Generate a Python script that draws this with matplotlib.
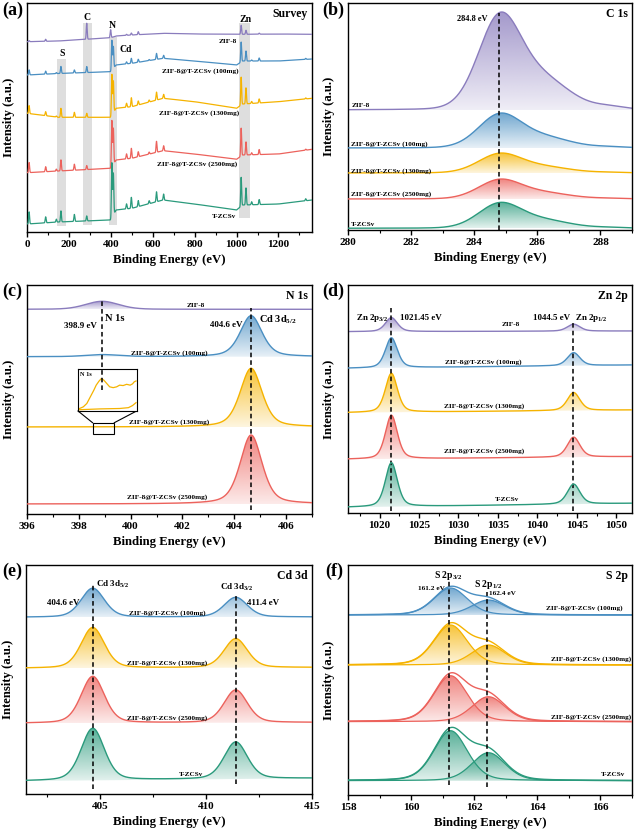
import numpy as np
import matplotlib
matplotlib.use("Agg")
import matplotlib.pyplot as plt
from matplotlib.patches import Polygon, Rectangle
from matplotlib.colors import to_rgb
from matplotlib.ticker import MultipleLocator

plt.rcParams['font.family'] = ['Liberation Serif', 'DejaVu Serif']
plt.rcParams['font.weight'] = 'bold'
plt.rcParams['axes.labelweight'] = 'bold'
plt.rcParams['mathtext.default'] = 'regular'
plt.rcParams['axes.linewidth'] = 1.0

# ---------------- data ----------------
samples = ['ZIF-8', 'ZIF-8@T-ZCSv (100mg)', 'ZIF-8@T-ZCSv (1300mg)',
           'ZIF-8@T-ZCSv (2500mg)', 'T-ZCSv']
colors = ['#8a7cbd', '#4a8fc2', '#f5b300', '#ec625c', '#2a9a7c']

# (a) survey: peak positions and heights per sample (top -> bottom)
sv_peak_x = [10, 89, 140, 162, 226, 285, 399, 405, 412, 475, 498, 531, 583, 618, 652, 1022, 1045, 1072, 1108, 1330]
sv_h_zif8 = [1, 2, 0, 0, 0, 16, 8, 0, 0, 1, 2, 3, 0, 0, 0, 9, 4, 0, 1, 0]
sv_h_100 = [5, 3, 1, 7, 3, 6, 0, 30, 22, 2, 5, 3, 1, 6, 3, 20, 10, 1, 3, 1]
sv_h_1300 = [8, 4, 1, 9, 5, 4, 0, 41, 32, 4, 9, 4, 2, 8, 4, 28, 16, 2, 4, 1]
sv_h_2500 = [10, 5, 2, 11, 6, 4, 0, 46, 36, 5, 10, 5, 2, 11, 5, 28, 13, 2, 5, 1]
sv_h_tzcsv = [12, 6, 3, 11, 7, 5, 0, 55, 42, 5, 11, 6, 3, 10, 6, 29, 17, 3, 5, 2]
sv_bg_x = [0, 150, 400, 425, 500, 650, 800, 1000, 1030, 1200, 1360]
sv_bg_zif8 = [190.3, 191, 194.3, 196, 197, 198.7, 198, 197.7, 197.7, 198, 197.7]
sv_bg_100 = [157, 158.5, 160.3, 167, 168.7, 173.7, 171, 167, 171, 171, 173]
sv_bg_1300 = [118.7, 114.7, 114.7, 123.7, 125.3, 133.7, 130.3, 123.7, 128, 130.3, 133.7]
sv_bg_2500 = [59.3, 61, 63.7, 72, 73.7, 81.3, 78, 72.7, 77, 78, 82.7]
sv_bg_tzcsv = [8, 10, 12, 22, 23.7, 32, 28, 22, 27, 28, 32]
band_lo = [145, 269, 391, 1014]
band_hi = [185, 312, 431, 1065]
band_bot = [6, 7, 7, 14]
band_top = [173, 209, 195, 209]

# (b) C 1s
c1s_center = [284.8, 286.2, 288.3]
c1s_fwhm = [1.6, 2.0, 1.2]
c1s_ratio = [1.0, 0.32, 0.03]
c1s_height = [98, 35, 20, 20, 26]
c1s_base = [120, 82, 57, 31, 1.7]

# (c) N 1s (ZIF-8, 100, 1300, 2500)
n1s_center = [398.9, 404.65]
n1s_fwhm = [1.5, 1.0]
n1s_h_n = [8, 2, 0, 0]
n1s_h_cd = [0, 41, 58.7, 69]
n1s_base = [204.7, 157.3, 87, 10]
inset_u = [0.01, 0.09, 0.15, 0.21, 0.27, 0.31, 0.36, 0.40, 0.44, 0.49, 0.54, 0.60, 0.66, 0.71, 0.77, 0.83, 0.89, 0.93, 0.96, 0.99]
inset_v = [0.05, 0.10, 0.18, 0.34, 0.50, 0.62, 0.72, 0.78, 0.74, 0.66, 0.58, 0.56, 0.58, 0.62, 0.61, 0.64, 0.62, 0.65, 0.70, 0.72]
inset_bu = [0.01, 0.37, 0.71, 0.86, 0.93, 0.99]
inset_bv = [0.03, 0.05, 0.06, 0.08, 0.13, 0.20]

# (d) Zn 2p (all five)
zn_center = [1021.5, 1044.6]
zn_fwhm = [1.8, 1.9]
zn_h1 = [14, 30, 39, 43.6, 44]
zn_h2 = [7, 13, 18, 20, 20]
zn_base_l = [181.3, 144.7, 100.3, 53.7, 5.7]
zn_base_r = [182, 148, 103, 56.4, 9.7]

# (e) Cd 3d (100, 1300, 2500, T-ZCSv)
cd_center = [404.65, 411.4]
cd_fwhm = [1.3, 1.3]
cd_h1 = [29, 40.6, 46.7, 52]
cd_h2 = [19.7, 29, 32.7, 37]
cd_base_l = [176.7, 125.7, 70.7, 13]
cd_base_r = [177, 126.5, 71.5, 15.7]

# (f) S 2p (100, 1300, 2500, T-ZCSv)
s_center = [161.25, 162.45]
s_fwhm = [1.25, 1.25]
s_h1 = [27, 40, 46, 50]
s_h2 = [15, 20, 25, 28]
s_base = [180, 130, 73.3, 14.3]


# ---------------- helpers ----------------
def pv(x, c, w, eta):
    g = np.exp(-4 * np.log(2) * ((x - c) / w) ** 2)
    lo = 1.0 / (1 + 4 * ((x - c) / w) ** 2)
    return eta * lo + (1 - eta) * g


def grad_fill(ax, x, ytop, ybase, color, a_top=0.78, a_bot=0.13, z=1):
    verts = np.vstack([np.column_stack([x, ytop]),
                       np.column_stack([x[::-1], ybase[::-1]])])
    poly = Polygon(verts, closed=True, fc='none', ec='none')
    ax.add_patch(poly)
    n = 200
    img = np.zeros((n, 2, 4))
    img[..., :3] = to_rgb(color)
    img[..., 3] = np.linspace(a_bot, a_top, n)[:, None]
    im = ax.imshow(img, extent=[x.min(), x.max(), ybase.min(), ytop.max()],
                   origin='lower', aspect='auto', interpolation='bilinear', zorder=z)
    im.set_clip_path(poly)


W, H = 635, 834


def rect(l, r, t, b):
    return [l / W, 1 - b / H, (r - l) / W, (b - t) / H]


def setup(ax, xlim, ytop, major, minor, ylab_x):
    ax.set_xlim(*xlim)
    ax.set_ylim(0, ytop)
    ax.set_yticks([])
    ax.xaxis.set_major_locator(MultipleLocator(major))
    ax.xaxis.set_minor_locator(MultipleLocator(minor))
    ax.tick_params(axis='x', which='major', direction='out', length=3.5, width=1, labelsize=8, pad=2)
    ax.tick_params(axis='x', which='minor', direction='out', length=2, width=0.8)
    ax.set_xlabel('Binding Energy (eV)', fontsize=9.2, fontweight='bold')
    ax.set_ylabel('Intensity (a.u.)', fontsize=9.2, fontweight='bold')
    ax.xaxis.set_label_coords(0.5, -0.095)
    ax.yaxis.set_label_coords(ylab_x, 0.5)


def title(ax, s):
    ax.text(0.985, 0.98, s, transform=ax.transAxes, ha='right', va='top', fontsize=8.5, fontweight='bold')


def dash(ax, x, y0, y1):
    ax.plot([x, x], [y0, y1], color='black', lw=1.1, ls=(0, (3, 2)), zorder=6)


fig = plt.figure(figsize=(6.35, 8.34), dpi=100)

# ---------------- (a) survey ----------------
ax = fig.add_axes(rect(27, 312, 3, 232))
setup(ax, (0, 1360), 229, 200, 100, -0.042)
for lo_, hi_, b_, t_ in zip(band_lo, band_hi, band_bot, band_top):
    ax.fill_between([lo_, hi_], b_, t_, color='#d9d9d9', alpha=0.85, lw=0, zorder=1)
x = np.linspace(0, 1360, 5000)
for bg, hs, col in zip([sv_bg_zif8, sv_bg_100, sv_bg_1300, sv_bg_2500, sv_bg_tzcsv],
                       [sv_h_zif8, sv_h_100, sv_h_1300, sv_h_2500, sv_h_tzcsv], colors):
    y = np.interp(x, sv_bg_x, bg)
    for p, h in zip(sv_peak_x, hs):
        y = y + h * np.exp(-0.5 * ((x - p) / 2.2) ** 2)
    ax.plot(x, y, color=col, lw=0.9, zorder=3)
for s, xx, yy in [('S', 166, 178.7), ('C', 288, 214.7), ('N', 407, 207), ('Cd', 473, 182.7), ('Zn', 1041, 212.7)]:
    ax.text(xx, yy, s, ha='center', va='center', fontsize=7, fontweight='bold', zorder=5)
for s, xx, yy in zip(samples, [958, 826, 821, 813, 941], [190.3, 161, 118.7, 68, 16]):
    ax.text(xx, yy, s, ha='center', va='center', fontsize=5.2, fontweight='bold', zorder=5)
title(ax, 'Survey')

# ---------------- (b) C 1s ----------------
ax = fig.add_axes(rect(348, 632, 3, 230))
setup(ax, (280, 289), 227, 2, 1, -0.046)
x = np.linspace(280, 289, 800)
prof = sum(r * pv(x, c, w, 0.1) for c, w, r in zip(c1s_center, c1s_fwhm, c1s_ratio))
prof = prof / prof.max()
for i, (h, b, col) in enumerate(zip(c1s_height, c1s_base, colors)):
    yb = np.full_like(x, b)
    yt = b + h * prof
    grad_fill(ax, x, yt, yb, col, z=2 + i)
    ax.plot(x, yt, color=col, lw=1.0, zorder=2.5 + i)
dash(ax, 284.8, 0, 216.7)
ax.text(284.43, 211, '284.8 eV', ha='right', va='center', fontsize=6, fontweight='bold', zorder=8)
for s, yy in zip(samples, [124.7, 86, 59.3, 35.7, 6]):
    ax.text(280.1, yy, s, ha='left', va='center', fontsize=5.2, fontweight='bold', zorder=8)
ax.set_xlim(280, 289); ax.set_ylim(0, 227)
title(ax, 'C 1s')

# ---------------- (c) N 1s ----------------
ax = fig.add_axes(rect(27, 312, 285, 514))
setup(ax, (396, 407), 229, 2, 1, -0.042)
x = np.linspace(396, 407, 900)
for i, (hn, hc, b, col) in enumerate(zip(n1s_h_n, n1s_h_cd, n1s_base, colors[:4])):
    yb = np.full_like(x, b)
    yt = b + hn * pv(x, n1s_center[0], n1s_fwhm[0], 0.2) + hc * pv(x, n1s_center[1], n1s_fwhm[1], 0.45)
    grad_fill(ax, x, yt, yb, col, z=2 + i)
    ax.plot(x, yt, color=col, lw=1.0, zorder=2.5 + i)
dash(ax, 398.9, 124, 213)
dash(ax, 404.65, 4, 206)
ax.text(398.68, 188, '398.9 eV', ha='right', va='center', fontsize=6.5, fontweight='bold', zorder=8)
ax.text(399.0, 195.7, 'N 1s', ha='left', va='center', fontsize=7.5, fontweight='bold', zorder=8)
ax.text(404.3, 189, '404.6 eV', ha='right', va='center', fontsize=6.5, fontweight='bold', zorder=8)
ax.text(404.94, 194, 'Cd 3d$_{5/2}$', ha='left', va='center', fontsize=7.5, fontweight='bold', zorder=8)
for s, xx, yy in zip(samples[:4], [402.5, 401.5, 401.5, 401.4], [209, 161, 92.3, 17.3]):
    ax.text(xx, yy, s, ha='center', va='center', fontsize=5.2, fontweight='bold', zorder=8)
# inset
ix0, ix1, iy0, iy1 = 397.97, 400.23, 103, 144.7
ins = ax.inset_axes([ix0, iy0, ix1 - ix0, iy1 - iy0], transform=ax.transData, zorder=9)
ins.set_xlim(0, 1); ins.set_ylim(0, 1)
ins.set_xticks([]); ins.set_yticks([])
for sp in ins.spines.values():
    sp.set_linewidth(0.8)
ins.plot(inset_u, inset_v, color=colors[2], lw=0.9)
ins.plot(inset_bu, inset_bv, color=colors[2], lw=0.9)
ins.plot([0.41, 0.41], [0.5, 1.0], color='black', lw=1.1, ls=(0, (3, 2)))
ins.text(0.04, 0.93, 'N 1s', ha='left', va='top', fontsize=4.5, fontweight='bold')
rx0, rx1, ry0, ry1 = 398.53, 399.37, 80.3, 91.3
ax.add_patch(Rectangle((rx0, ry0), rx1 - rx0, ry1 - ry0, fill=False, ec='black', lw=0.8, zorder=9))
ax.plot([ix0, rx0], [iy0, ry1], color='black', lw=0.8, zorder=9)
ax.plot([ix1, rx1], [iy0, ry1], color='black', lw=0.8, zorder=9)
ax.set_xlim(396, 407); ax.set_ylim(0, 229)
title(ax, 'N 1s')

# ---------------- (d) Zn 2p ----------------
ax = fig.add_axes(rect(348, 632, 285, 513))
setup(ax, (1016, 1052), 228, 5, 2.5, -0.046)
x = np.linspace(1016, 1052, 1200)
for i, (h1, h2, bl, br, col) in enumerate(zip(zn_h1, zn_h2, zn_base_l, zn_base_r, colors)):
    yb = bl + (br - bl) * (x - x[0]) / (x[-1] - x[0])
    yt = yb + h1 * pv(x, zn_center[0], zn_fwhm[0], 0.4) + h2 * pv(x, zn_center[1], zn_fwhm[1], 0.4)
    grad_fill(ax, x, yt, yb, col, z=2 + i)
    ax.plot(x, yt, color=col, lw=1.0, zorder=2.5 + i)
dash(ax, 1021.45, 2, 205)
dash(ax, 1044.5, 2, 191.3)
ax.text(1017.0, 195.3, 'Zn 2p$_{3/2}$', ha='left', va='center', fontsize=6.5, fontweight='bold', zorder=8)
ax.text(1022.6, 195, '1021.45 eV', ha='left', va='center', fontsize=6.5, fontweight='bold', zorder=8)
ax.text(1044.17, 195, '1044.5 eV', ha='right', va='center', fontsize=6.5, fontweight='bold', zorder=8)
ax.text(1044.8, 195, 'Zn 2p$_{1/2}$', ha='left', va='center', fontsize=6.5, fontweight='bold', zorder=8)
for s, xx, yy in zip(samples, [1036.6, 1033.2, 1033.2, 1033.2, 1036.2], [188, 150.7, 107.3, 62, 13.7]):
    ax.text(xx, yy, s, ha='center', va='center', fontsize=5.2, fontweight='bold', zorder=8)
ax.set_xlim(1016, 1052); ax.set_ylim(0, 228)
title(ax, 'Zn 2p')

# ---------------- (e) Cd 3d ----------------
ax = fig.add_axes(rect(26, 312, 565, 794))
setup(ax, (401.5, 415), 229, 5, 2.5, -0.042)
x = np.linspace(401.5, 415, 1000)
for i, (h1, h2, bl, br, col) in enumerate(zip(cd_h1, cd_h2, cd_base_l, cd_base_r, colors[1:])):
    yb = bl + (br - bl) * (x - x[0]) / (x[-1] - x[0])
    yt = yb + h1 * pv(x, cd_center[0], cd_fwhm[0], 0.3) + h2 * pv(x, cd_center[1], cd_fwhm[1], 0.3)
    grad_fill(ax, x, yt, yb, col, z=2 + i)
    ax.plot(x, yt, color=col, lw=1.0, zorder=2.5 + i)
dash(ax, 404.65, 5, 210)
dash(ax, 411.4, 9.7, 199.7)
ax.text(404.81, 209.7, 'Cd 3d$_{5/2}$', ha='left', va='center', fontsize=6.5, fontweight='bold', zorder=8)
ax.text(403.25, 191.3, '404.6 eV', ha='center', va='center', fontsize=6.5, fontweight='bold', zorder=8)
ax.text(410.67, 206.7, 'Cd 3d$_{3/2}$', ha='left', va='center', fontsize=6.5, fontweight='bold', zorder=8)
ax.text(411.92, 191.3, '411.4 eV', ha='left', va='center', fontsize=6.5, fontweight='bold', zorder=8)
for s, xx, yy in zip(samples[1:], [408.17, 408.17, 408.17, 409.3], [180.7, 130.7, 75.7, 20]):
    ax.text(xx, yy, s, ha='center', va='center', fontsize=5.2, fontweight='bold', zorder=8)
ax.set_xlim(401.5, 415); ax.set_ylim(0, 229)
title(ax, 'Cd 3d')

# ---------------- (f) S 2p ----------------
ax = fig.add_axes(rect(348, 632, 565, 795))
setup(ax, (158, 167), 230, 2, 1, -0.046)
x = np.linspace(158, 167, 900)
for i, (h1, h2, b, col) in enumerate(zip(s_h1, s_h2, s_base, colors[1:])):
    yb = np.full_like(x, b)
    c1 = b + h1 * pv(x, s_center[0], s_fwhm[0], 0.25)
    c2 = b + h2 * pv(x, s_center[1], s_fwhm[1], 0.25)
    env = c1 + c2 - b
    z = 2 + i
    grad_fill(ax, x, c1, yb, col, z=z)
    grad_fill(ax, x, c2, yb, col, z=z + 0.1)
    ax.plot(x, c1, color=col, lw=0.9, zorder=z + 0.2)
    ax.plot(x, c2, color=col, lw=0.9, zorder=z + 0.2)
    ax.plot(x, env, color=col, lw=1.0, zorder=z + 0.3)
dash(ax, 161.2, 10, 215)
dash(ax, 162.4, 8.3, 203.3)
ax.text(160.74, 219.3, 'S 2p$_{3/2}$', ha='left', va='center', fontsize=7, fontweight='bold', zorder=8)
ax.text(161.07, 206.7, '161.2 eV', ha='right', va='center', fontsize=5.2, fontweight='bold', zorder=8)
ax.text(161.98, 210.7, 'S 2p$_{1/2}$', ha='left', va='center', fontsize=7, fontweight='bold', zorder=8)
ax.text(162.47, 201, '162.4 eV', ha='left', va='center', fontsize=5.2, fontweight='bold', zorder=8)
for s, xx, yy in zip(samples[1:], [165.48, 165.7, 165.7, 166.4], [186.7, 135.7, 77.7, 20]):
    ax.text(xx, yy, s, ha='center', va='center', fontsize=5.2, fontweight='bold', zorder=8)
ax.set_xlim(158, 167); ax.set_ylim(0, 230)
title(ax, 'S 2p')

# panel letters
for s, px, py in [('(a)', 2, 2), ('(b)', 322, 2), ('(c)', 2, 283), ('(d)', 322, 283), ('(e)', 2, 563), ('(f)', 325, 563)]:
    fig.text(px / W, 1 - py / H, s, ha='left', va='top', fontsize=13, fontweight='bold')

fig.savefig('out.png', dpi=100)
